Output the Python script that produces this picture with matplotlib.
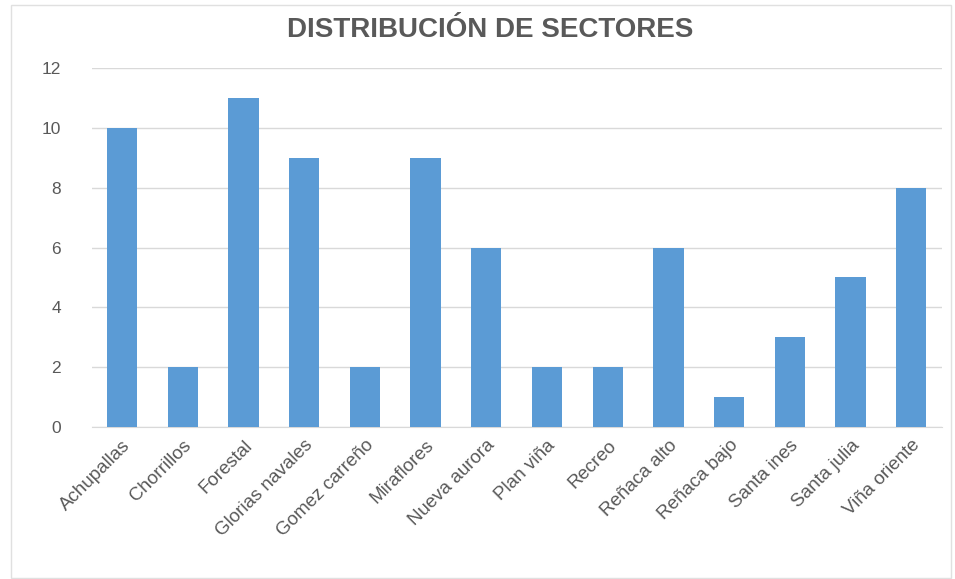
import matplotlib
matplotlib.use('Agg')
import matplotlib.pyplot as plt
from matplotlib.patches import Rectangle

# Datos del gráfico
sectores = ['Achupallas', 'Chorrillos', 'Forestal', 'Glorias navales', 'Gomez carreño',
            'Miraflores', 'Nueva aurora', 'Plan viña', 'Recreo', 'Reñaca alto',
            'Reñaca bajo', 'Santa ines', 'Santa julia', 'Viña oriente']
cantidad = [10, 2, 11, 9, 2, 9, 6, 2, 2, 6, 1, 3, 5, 8]
marcas_y = [0, 2, 4, 6, 8, 10, 12]

GRIS = '#595959'
AZUL = '#5b9bd5'

plt.rcParams['font.family'] = ['Liberation Sans', 'DejaVu Sans']

fig = plt.figure(figsize=(9.55, 5.79), dpi=100)
ax = fig.add_axes([0.096, 0.2625, 0.89, 0.62])

ax.bar(range(len(sectores)), cantidad, width=0.5, color=AZUL, zorder=3)
ax.set_xlim(-0.5, len(sectores) - 0.5)
ax.set_ylim(0, 12)
ax.set_yticks(marcas_y)
ax.set_xticks(range(len(sectores)))
ax.set_xticklabels(sectores, rotation=45, ha='right', rotation_mode='anchor',
                   color=GRIS, fontsize=13.5)
ax.tick_params(axis='y', colors=GRIS, labelsize=12.5, length=0, pad=22)
ax.tick_params(axis='x', length=0, pad=7)
ax.grid(axis='y', color='#d9d9d9', linewidth=1, zorder=0)
for lado in ['top', 'right', 'left']:
    ax.spines[lado].set_visible(False)
ax.spines['bottom'].set_color('#d9d9d9')

fig.text(0.513, 0.948, 'DISTRIBUCIÓN DE SECTORES', ha='center', va='center',
         fontsize=20, fontweight='bold', color=GRIS,
         family=['Liberation Sans Narrow', 'Liberation Sans', 'DejaVu Sans'])

# Borde del área del gráfico
fig.patches.append(Rectangle((0.011, 0.002), 0.985, 0.99, transform=fig.transFigure,
                             fill=False, edgecolor='#e0e0e0', linewidth=1))

fig.savefig('out.png', dpi=100)
